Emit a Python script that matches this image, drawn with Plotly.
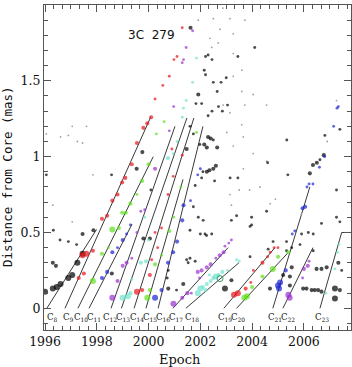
import plotly.graph_objects as go

# ---------------- data (epoch [yr], distance from core [mas], flux class 0-3) -------------
red_year = [1997.30, 1997.50, 1997.45, 1997.60, 1997.85, 1998.20, 1998.40, 1998.60, 1998.80, 1998.98,
            1999.10, 1999.35, 1999.55, 1999.80, 1999.95, 2000.10, 2000.25, 2000.55, 2000.80, 2000.98,
            2001.10, 2001.30,
            1999.55, 1999.75, 2000.05, 2000.12, 2000.25, 2000.35, 2000.50, 2000.75, 2000.95, 2000.90, 2001.30,
            2003.30, 2003.45, 2003.75, 2003.95, 2004.05, 2004.40, 2004.60, 2004.70, 2004.85, 2005.00]
red_dist = [0.20, 0.23, 0.35, 0.36, 0.38, 0.59, 0.61, 0.71, 0.75, 0.83,
            0.86, 0.95, 1.09, 1.19, 1.22, 1.26, 1.38, 1.47, 1.53, 1.64,
            1.66, 1.85,
            0.11, 0.12, 0.22, 0.32, 0.50, 0.40, 0.53, 0.75, 0.87, 1.05, 1.01,
            0.09, 0.10, 0.13, 0.17, 0.25, 0.30, 0.34, 0.37, 0.40, 0.40]
red_flux = [2, 2, 3, 3, 2, 2, 2, 2, 2, 2,
            2, 2, 2, 2, 2, 2, 1, 1, 1, 1,
            1, 1,
            3, 2, 2, 1, 1, 1, 1, 1, 1, 1, 1,
            3, 3, 2, 1, 1, 2, 1, 1, 1, 1]

green_year = [1997.85, 1998.20, 1998.45, 1998.60, 1998.85, 1998.98, 1999.12, 1999.30, 1999.55, 1999.75,
              2000.00, 2000.30, 2000.60, 2001.85,
              1999.95, 2000.05, 2000.25, 2000.50, 2000.80, 2000.97, 2001.25,
              2003.70, 2003.80, 2004.00, 2004.40, 2004.80, 2005.00, 2005.40]
green_dist = [0.18, 0.36, 0.40, 0.52, 0.53, 0.63, 0.63, 0.69, 0.75, 0.84,
              0.95, 1.15, 1.23, 1.16,
              0.07, 0.12, 0.29, 0.35, 0.51, 0.60, 0.80,
              0.07, 0.08, 0.14, 0.21, 0.26, 0.34, 0.37]
green_flux = [3, 2, 1, 3, 2, 2, 2, 2, 1, 2,
              2, 1, 1, 1,
              3, 2, 2, 1, 2, 1, 1,
              3, 3, 2, 2, 3, 2, 2]

blue_year = [1998.20, 1998.40, 1998.60, 1998.80, 1999.00, 1999.15, 1999.30,
             2000.25, 2000.50, 2000.75, 2000.95, 2001.10, 2001.30, 2001.35, 2001.62, 2001.90, 2002.00,
             2005.00, 2005.08, 2005.04, 2005.30, 2005.55, 2005.65, 2005.95, 2006.05, 2006.12, 2006.20,
             2006.35, 2006.60, 2006.80, 2007.15, 2007.28, 2007.33]
blue_dist = [0.20, 0.24, 0.37, 0.40, 0.45, 0.49, 0.55,
             0.07, 0.12, 0.30, 0.37, 0.44, 0.58, 0.68, 0.71, 0.88, 0.92,
             0.15, 0.17, 0.13, 0.25, 0.49, 0.51, 0.66, 0.67, 0.80, 0.82,
             0.82, 0.93, 1.00, 1.20, 1.32, 1.33]
blue_flux = [2, 2, 2, 1, 2, 1, 1,
             3, 2, 2, 2, 2, 2, 2, 1, 1, 1,
             3, 3, 3, 2, 1, 1, 2, 2, 1, 1,
             1, 1, 1, 1, 1, 1]

purple_year = [1998.60, 1998.80, 1999.00, 1999.15, 1999.35, 1999.55, 1999.70, 1999.85, 2000.25, 2000.80,
               2000.97, 2001.30, 2001.35, 2001.45, 2001.70,
               2000.96, 2001.30, 2001.50, 2001.65, 2001.90, 2002.05, 2001.97, 2002.25, 2002.40, 2002.60,
               2002.75, 2002.90, 2002.95, 2003.10, 2003.20,
               2005.40, 2005.45, 2005.95, 2006.00, 2006.15, 2006.20]
purple_dist = [0.07, 0.18, 0.28, 0.30, 0.33, 0.50, 0.64, 0.65, 0.92, 1.17,
               1.33, 1.62, 1.64, 1.72, 1.83,
               0.03, 0.07, 0.10, 0.10, 0.24, 0.25, 0.20, 0.27, 0.29, 0.33,
               0.35, 0.37, 0.41, 0.43, 0.45,
               0.09, 0.07, 0.20, 0.26, 0.28, 0.31]
purple_flux = [3, 2, 2, 2, 1, 1, 1, 1, 2, 1,
               1, 1, 1, 1, 1,
               3, 2, 2, 1, 2, 2, 1, 2, 2, 1,
               2, 2, 1, 1, 1,
               3, 3, 1, 2, 2, 1]

cyan_year = [1999.00, 1999.20, 1999.30, 1999.35, 1999.70, 1999.90, 2000.00, 1999.85, 2000.75, 2000.95,
             2001.10, 2001.30, 2001.35, 2001.45, 2001.70, 2001.85,
             2001.90, 2002.00, 2002.10, 2002.25, 2002.40, 2002.50, 2002.60, 2002.70, 2002.85, 2003.05,
             2003.40, 2003.50, 2002.20, 2002.35,
             2006.85, 2007.20, 2007.30, 2007.35]
cyan_dist = [0.07, 0.08, 0.10, 0.19, 0.30, 0.31, 0.45, 0.60, 0.99, 1.02,
             1.10, 1.26, 1.32, 1.37, 1.49, 1.65,
             0.10, 0.13, 0.14, 0.16, 0.18, 0.20, 0.21, 0.22, 0.24, 0.25,
             0.32, 0.31, 0.12, 0.22,
             0.10, 0.26, 0.37, 0.42]
cyan_flux = [3, 3, 2, 1, 2, 2, 1, 1, 2, 1,
             1, 1, 1, 1, 1, 1,
             3, 3, 2, 2, 2, 2, 3, 2, 2, 1,
             1, 1, 2, 1,
             1, 1, 1, 1]

black_year = [1996.00, 1996.30, 1996.45, 1996.60, 1996.90, 1997.05, 1997.25, 1997.45, 1996.30, 1996.42,
              1996.58, 1996.90, 1997.22, 1997.45, 1997.87, 1996.32,
              1998.58, 1999.54, 1999.76, 1996.05, 1998.57, 2000.09, 1999.80, 2000.05,
              2000.76, 2000.72, 2001.34, 2001.08, 2001.92, 2001.60, 2002.00, 2002.18, 2001.53, 2001.80,
              2000.76, 2002.95, 2003.20, 2001.73, 2002.11, 2002.24, 2002.44, 2001.47, 2001.60,
              2001.92, 2001.83, 2002.05, 2002.30, 2001.62, 2002.20, 2002.30, 2002.45, 2002.15, 2002.20,
              2002.50, 2002.80, 2002.65, 2003.00, 2004.10, 2003.45, 2002.45, 2002.70, 2002.85, 2003.05,
              2002.30, 2002.40, 2002.15, 2002.25, 2002.65, 2002.50, 2002.25, 2002.35, 2002.50, 2002.60,
              2002.05, 2002.55, 2003.15, 2003.45, 2001.47, 2001.73, 2001.98, 2002.10, 2001.60, 2001.80,
              2006.23, 2006.35, 2006.50, 2006.62, 2006.77, 2006.81, 2007.39, 2005.34, 2005.38, 2004.60,
              2004.69, 2005.20, 2005.46, 2005.53, 2005.46, 2005.85, 2005.91, 2006.17, 2006.36, 2006.36,
              2006.49, 2006.68, 2006.88, 2005.97, 2006.10, 2006.30, 2006.42, 2006.55, 2006.68, 2007.20,
              2007.20, 2007.39, 2007.46, 2007.26, 2007.39, 2007.26, 2003.92, 2003.98, 2003.98, 2004.81,
              2004.62, 2004.56, 2005.53, 2005.33, 2005.33, 2006.68, 2007.33, 2003.40, 2003.20, 2003.92]
black_dist = [0.11, 0.13, 0.14, 0.16, 0.20, 0.22, 0.30, 0.36, 0.30, 0.28,
              0.45, 0.44, 0.42, 0.49, 0.515, 0.515,
              0.23, 0.92, 1.03, 0.88, 0.88, 0.78, 0.46, 0.46,
              0.25, 0.20, 0.16, 0.12, 0.60, 0.515, 0.49, 0.49, 0.30, 0.31,
              0.13, 0.13, 0.185, 0.67, 0.58, 0.48, 0.49, 0.32, 0.33,
              1.41, 1.35, 1.35, 1.27, 1.85, 1.66, 1.67, 1.64, 1.57, 1.54,
              1.49, 1.49, 1.43, 1.52, 1.72, 1.66, 1.30, 1.33, 1.30, 1.34,
              1.13, 1.12, 1.08, 1.06, 1.06, 1.11, 0.90, 0.91, 0.92, 0.94,
              0.86, 0.84, 0.86, 0.86, 1.05, 1.15, 1.08, 0.90, 1.20, 0.81,
              0.89, 0.945, 0.96, 0.98, 1.01, 1.14, 1.18, 1.11, 0.88, 0.96,
              0.13, 0.22, 0.21, 0.27, 0.15, 0.42, 0.49, 0.50, 0.49, 0.38,
              0.26, 0.26, 0.27, 0.13, 0.13, 0.12, 0.12, 0.12, 0.11, 0.13,
              0.065, 0.12, 0.25, 0.60, 0.57, 0.78, 0.34, 0.55, 0.60, 0.44,
              0.39, 0.64, 0.40, 0.44, 0.38, 0.56, 0.30, 0.61, 0.58, 0.54]
black_flux = [3, 3, 3, 3, 3, 3, 3, 3, 2, 2,
              1, 1, 1, 2, 2, 1,
              2, 2, 2, 1, 1, 1, 2, 2,
              1, 1, 2, 1, 1, 1, 1, 1, 1, 1,
              2, 3, 2, 1, 1, 1, 1, 1, 1,
              2, 1, 1, 1, 2, 1, 1, 1, 1, 1,
              1, 1, 1, 1, 1, 1, 1, 1, 1, 1,
              2, 2, 2, 2, 2, 1, 2, 2, 2, 2,
              1, 1, 1, 1, 2, 1, 1, 1, 1, 1,
              2, 2, 2, 1, 2, 1, 1, 1, 1, 1,
              2, 2, 2, 2, 2, 1, 1, 1, 1, 1,
              2, 2, 2, 2, 2, 2, 2, 2, 2, 3,
              3, 2, 1, 1, 1, 1, 1, 1, 1, 1,
              1, 1, 1, 1, 1, 1, 2, 1, 1, 1]

faint_year = [1996.05, 1996.60, 1996.90, 1997.05, 1997.25, 1997.60, 1997.45, 1997.85, 1996.30, 1997.05,
              2003.14, 2003.72, 2001.92, 2002.76, 2002.37, 2002.69, 2003.27, 2002.44, 2003.27, 2003.60,
              2004.04, 2002.88, 2003.72, 2003.60, 2003.02, 2003.66, 2003.27, 2004.04, 2003.66, 2004.56,
              2004.56, 2003.14, 2003.60, 2002.50, 2002.87, 2003.27,
              2006.90, 2007.26, 2005.90, 2004.30, 2003.90, 2004.90, 2003.50, 2003.14, 2004.70, 2003.20]
faint_dist = [1.15, 1.13, 1.14, 1.20, 1.10, 1.20, 1.09, 0.88, 0.68, 0.57,
              1.91, 1.90, 1.90, 1.84, 1.78, 1.75, 1.68, 1.72, 1.53, 1.43,
              1.41, 1.34, 1.34, 1.21, 1.16, 1.13, 1.07, 1.02, 0.92, 1.34,
              0.97, 1.29, 1.57, 1.91, 1.98, 1.81,
              1.10, 1.37, 0.62, 0.80, 0.78, 0.72, 0.78, 0.75, 0.69, 0.68]

ring_year = [2002.76]
ring_dist = [0.196]

# component trajectories: start epoch at core, end epoch, end distance
comp_names = ["8", "9", "10", "11", "12", "13", "14", "15", "16", "17", "18", "19", "20", "21", "22", "23"]
comp_t0 = [1996.07, 1996.77, 1997.27, 1997.70, 1998.55, 1998.95, 1999.44, 1999.90, 2000.37, 2000.94,
           2001.44, 2002.91, 2003.40, 2004.80, 2005.19, 2006.62]
comp_t1 = [1997.99, 2000.08, 2000.18, 1999.36, 2001.02, 2001.48, 2001.75, 2001.33, 2002.10, 2003.07,
           2003.49, 2004.88, 2005.38, 2006.23, 2006.35, 2007.46]
comp_r1 = [0.52, 1.26, 1.00, 0.555, 1.20, 1.255, 1.255, 0.85, 1.20, 0.40,
           0.30, 0.40, 0.365, 0.80, 0.40, 0.50]
label_year = [1996.29, 1996.92, 1997.38, 1997.88, 1998.51, 1999.01, 1999.55, 2000.05, 2000.56, 2001.06,
              2001.68, 2002.95, 2003.45, 2004.88, 2005.38, 2006.70]
c23_tail = [2007.46, 2007.82]

XMIN, XMAX = 1995.96, 2007.82
YMIN, YMAX = -0.143, 2.0

# ---------------- figure -------------
fig = go.Figure()

LINE_COL = "#3a3a3a"
for t0, t1, r1 in zip(comp_t0, comp_t1, comp_r1):
    fig.add_trace(go.Scatter(x=[t0, t1], y=[0, r1], mode="lines",
                             line=dict(color=LINE_COL, width=1), hoverinfo="skip"))
fig.add_trace(go.Scatter(x=c23_tail, y=[comp_r1[-1], comp_r1[-1]], mode="lines",
                         line=dict(color=LINE_COL, width=1), hoverinfo="skip"))

size_map = {0: 1.8, 1: 2.9, 2: 4.1, 3: 6.0}

fig.add_trace(go.Scatter(x=faint_year, y=faint_dist, mode="markers",
                         marker=dict(color="#a0a0a0", size=size_map[0], line=dict(width=0))))

groups = [
    (black_year, black_dist, black_flux, "#000000"),
    (cyan_year, cyan_dist, cyan_flux, "#6fe3cf"),
    (red_year, red_dist, red_flux, "#e8141a"),
    (green_year, green_dist, green_flux, "#5ee01c"),
    (blue_year, blue_dist, blue_flux, "#1c22d0"),
    (purple_year, purple_dist, purple_flux, "#9b30d0"),
]
for xs, ys, fl, col in groups:
    fig.add_trace(go.Scatter(x=xs, y=ys, mode="markers",
                             marker=dict(color=col, size=[size_map[f] for f in fl], line=dict(width=0))))

fig.add_trace(go.Scatter(x=ring_year, y=ring_dist, mode="markers",
                         marker=dict(color="rgba(0,0,0,0)", size=6, line=dict(color="#3c9a6a", width=1))))

# invisible trace so that the mirrored top/right axes are drawn
fig.add_trace(go.Scatter(x=[XMIN], y=[YMIN], xaxis="x2", yaxis="y2", mode="markers",
                         marker=dict(opacity=0), hoverinfo="skip"))

ann = []
for name, lx in zip(comp_names, label_year):
    ann.append(dict(x=lx, y=-0.062, xref="x", yref="y", text="C<sub>%s</sub>" % name,
                    showarrow=False, xanchor="center", yanchor="middle",
                    font=dict(family="DejaVu Serif", size=8.5, color="#111")))
ann.append(dict(x=2000.13, y=1.80, xref="x", yref="y", text="3C  279", showarrow=False,
                xanchor="center", yanchor="middle",
                font=dict(family="DejaVu Sans", size=12, color="#111")))
ann.append(dict(x=0.4446, y=-0.091, xref="paper", yref="paper", text="Epoch", showarrow=False,
                xanchor="center", yanchor="middle",
                font=dict(family="DejaVu Serif", size=13, color="#111")))
ann.append(dict(x=-0.117, y=0.471, xref="paper", yref="paper", text="Distance from Core (mas)",
                showarrow=False, textangle=-90, xanchor="center", yanchor="middle",
                font=dict(family="DejaVu Sans Mono", size=12.5, color="#111")))

AX_COL = "#555"
axis_common = dict(showgrid=False, zeroline=False, showline=True, linecolor=AX_COL, linewidth=1.2,
                   ticks="inside", tickcolor=AX_COL, tickwidth=1.2, ticklen=7)
xminor = dict(dtick=1/3, tick0=1996, ticks="inside", ticklen=4, tickcolor=AX_COL, showgrid=False)
yminor = dict(dtick=0.1, tick0=0, ticks="inside", ticklen=4, tickcolor=AX_COL, showgrid=False)
xticks = [1996, 1998, 2000, 2002, 2004, 2006]
yticks = [0, 0.5, 1, 1.5, 2]

fig.update_layout(
    width=352, height=367, margin=dict(l=44, r=1, t=5, b=37),
    paper_bgcolor="white", plot_bgcolor="white", showlegend=False,
    annotations=ann,
    xaxis=dict(range=[XMIN, XMAX], tickvals=xticks,
               tickfont=dict(family="DejaVu Serif", size=12.5, color="#111"),
               minor=xminor, **axis_common),
    yaxis=dict(range=[YMIN, YMAX], tickvals=yticks, ticktext=["0", "0.5", "1", "1.5", "2"],
               tickfont=dict(family="DejaVu Serif", size=12.5, color="#111"),
               minor=yminor, **axis_common),
    xaxis2=dict(range=[XMIN, XMAX], tickvals=xticks, overlaying="x", side="top", anchor="y",
                showticklabels=False, minor=xminor, **axis_common),
    yaxis2=dict(range=[YMIN, YMAX], tickvals=yticks, overlaying="y", side="right", anchor="x",
                showticklabels=False, minor=yminor, **axis_common),
)

fig.write_html("out.html")
